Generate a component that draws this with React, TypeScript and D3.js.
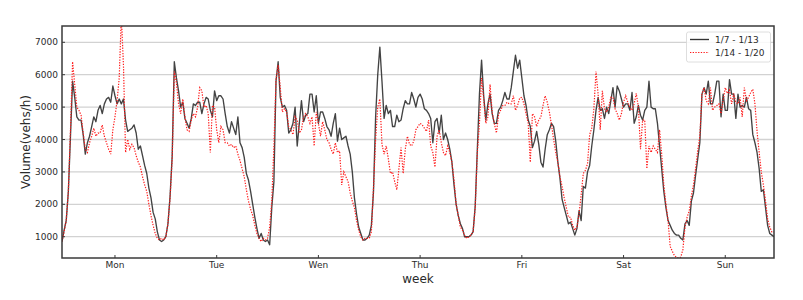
import React from 'react';
import * as d3 from 'd3';

// ---------- data ----------
const dayLabels = ['Mon', 'Tue', 'Wen', 'Thu', 'Fri', 'Sat', 'Sun'];
const yTicks = [1000, 2000, 3000, 4000, 5000, 6000, 7000];
const stepHours = 0.5; // one sample every 30 minutes
const tickHours = [12.5, 36.5, 60.5, 84.5, 108.5, 132.5, 156.5];
const seriesNames = ['1/7 - 1/13', '1/14 - 1/20'];

// week 1/7 - 1/13 (black solid)
const mon1 = [850,1200,1500,2400,4100,5800,5300,4700,4600,4600,4150,3550,3900,4100,4400,4700,4550,4900,5050,4800,5100,5250,5300,5150,5650,5350,5100,5250,5100,5250,4600,4250,4300,4350,4450,4200,3700,3800,3500,3200,2950,2500,2200,1750,1550,1150,900,850];
const tue1 = [900,1000,1400,2250,3500,6400,5900,5500,5000,5150,4650,4500,4350,4650,5100,5050,5150,5150,4800,5100,5300,5250,4900,4700,5500,5200,5350,5350,5250,4800,4400,4200,4550,4350,4150,4700,3900,3750,3450,2950,2750,2400,2000,1600,1250,950,1100,900];
const wed1 = [850,900,750,1900,2700,5800,6400,5300,5000,5050,4900,4200,4300,4500,5000,3800,4500,5200,4550,4750,4800,5400,5400,4850,5350,4500,4850,4850,4650,4400,4300,4100,4500,4800,3950,4350,4000,4050,4100,3800,3550,3000,2200,1700,1300,1100,900,900];
const thu1 = [950,1050,1350,2400,4700,6000,6850,5800,4650,5050,4800,4900,4400,4400,4750,4550,4600,4950,5200,5100,5100,5450,5250,5000,5300,5400,5250,4950,4900,4800,4650,3900,4550,4650,4200,4750,4000,4200,4000,3700,3300,2600,2000,1650,1400,1250,1000,1000];
const fri1 = [1000,1050,1150,1950,3700,5400,6450,5350,4600,5100,5400,4800,4500,4500,4900,5000,5200,5450,5250,5250,5600,6100,6600,6200,6450,5900,5350,5050,4600,4400,3750,3950,4250,3850,3300,3150,3700,4150,4300,4500,4400,3950,3300,2800,2150,1900,1650,1400];
const sat1 = [1450,1250,1050,1250,1800,1500,2550,2500,3000,3200,3800,4300,4900,5300,4900,4950,4650,5000,4800,5200,5600,5000,5650,5500,5250,5000,5100,5100,4900,5450,4500,4700,5050,4750,4600,4900,5000,5800,5000,4950,4950,4500,3800,3100,2400,1900,1500,1350];
const sun1 = [1200,1100,1050,1050,950,900,1400,1500,1350,2100,2350,2900,3400,3900,5400,5600,5400,5800,5100,5100,5400,5800,5800,4700,5400,4900,4900,5850,5400,5400,4650,5400,5000,5050,5000,5300,4950,4900,4150,3900,3600,3100,2400,2450,1900,1350,1100,1050,1000];

// week 1/14 - 1/20 (red dotted)
const mon2 = [850,1150,1500,2400,4300,6400,5700,5000,4900,4750,4200,3700,3600,3900,4100,4350,4100,4200,4200,4450,4100,3900,3700,3550,4300,4700,5200,5900,7800,6300,3600,4000,3700,3850,3750,3500,3300,3150,2850,2600,2400,2000,1650,1350,1100,950,900,950];
const tue2 = [900,1000,1400,2200,3400,6100,5750,5100,4800,5250,4700,4300,4250,4600,4800,4700,5000,5600,5500,5000,5050,4800,3600,5050,5000,4300,3900,4400,4300,3900,3900,3800,3850,3750,3800,3550,3350,3100,2850,2450,2100,1850,1650,1350,1100,950,850,950];
const wed2 = [900,950,1300,2100,3800,5850,6300,5600,4850,4950,4850,4400,4300,4150,4700,4600,4200,4300,4700,4800,4700,4500,4700,3800,4850,4500,4100,4550,4300,4000,3900,3700,3550,3900,3600,3650,2600,3000,2850,2700,2350,2100,1900,1500,1200,1000,900,950];
const thu2 = [950,950,1150,2500,4000,5000,5250,3850,3550,3800,3400,2950,3000,2700,2450,3100,3750,2950,3700,4100,3850,3800,3950,4300,4400,4500,4450,4350,4250,4600,3800,3600,3150,4100,4300,3900,3600,3500,3800,3600,3300,2750,2000,1650,1300,1200,1050,950];
const fri2 = [1000,1050,1150,1900,3600,4500,5900,5250,4500,4700,5700,4850,4500,4200,4750,4900,5050,5050,5150,5100,5100,5350,4900,5050,5280,5300,5100,4800,4500,3300,4800,4700,4400,4600,4700,5050,5350,5150,4850,4450,4000,3600,3300,2850,2550,2200,1900,1600];
const sat2 = [1600,1350,1200,1300,1700,2300,2950,3050,3250,4150,4350,4950,6100,5400,4300,5500,4950,4850,5000,5300,5300,4950,4800,4600,4800,5150,5350,5150,5000,4900,5100,5420,5000,3700,4600,4600,3100,3800,3600,3800,3700,3600,4300,3550,2600,2000,1500,700];
const sun2 = [550,420,360,340,370,600,1300,1600,1800,2250,2600,3100,3650,4100,5400,5600,5200,5100,5600,4900,5000,5050,5100,4800,5200,5600,5420,5520,5100,5420,5140,5100,5300,4700,5600,5200,5300,5450,5550,5100,4250,3600,3000,2600,2100,1550,1300,1150,1150];

const week1 = [...mon1, ...tue1, ...wed1, ...thu1, ...fri1, ...sat1, ...sun1];
const week2 = [...mon2, ...tue2, ...wed2, ...thu2, ...fri2, ...sat2, ...sun2];

export default function App() {
  const W = 803;
  const H = 300;
  const left = 62;
  const right = 774;
  const top = 26;
  const bottom = 258;

  const x = d3.scaleLinear().domain([0, 168]).range([left, right]);
  const y = d3.scaleLinear().domain([343, 7503]).range([bottom, top]);

  const line = d3
    .line<number>()
    .x((_, i) => x(i * stepHours))
    .y((d) => y(d));

  const font = 'DejaVu Sans, Verdana, sans-serif';
  const textColor = '#2b2b2b';

  return (
    <svg
      width={W}
      height={H}
      style={{ position: 'absolute', left: 0, top: 0, background: '#fff' }}
      fontFamily={font}
    >
      <defs>
        <clipPath id="plotClip">
          <rect x={left} y={top} width={right - left} height={bottom - top} />
        </clipPath>
      </defs>

      {/* grid */}
      {yTicks.map((t) => (
        <line
          key={'g' + t}
          x1={left}
          x2={right}
          y1={y(t)}
          y2={y(t)}
          stroke="#d2d2d2"
          strokeWidth={1.3}
        />
      ))}

      {/* series */}
      <g clipPath="url(#plotClip)">
        <path d={line(week1) || ''} fill="none" stroke="#333" strokeOpacity={0.92} strokeWidth={1.35} strokeLinejoin="round" />
        <path d={line(week2) || ''} fill="none" stroke="#ff1a1a" strokeWidth={1.2} strokeDasharray="1.3 1.4" />
      </g>

      {/* frame */}
      <rect x={left} y={top} width={right - left} height={bottom - top} fill="none" stroke="#3a3a3a" strokeWidth={1.5} />

      {/* y ticks */}
      {yTicks.map((t) => (
        <g key={'y' + t}>
          <line x1={left} x2={left + 3} y1={y(t)} y2={y(t)} stroke="#3a3a3a" strokeWidth={1} />
          <text x={left - 4} y={y(t)} dy="0.35em" textAnchor="end" fontSize={9} fill={textColor}>
            {t}
          </text>
        </g>
      ))}

      {/* x ticks */}
      {tickHours.map((h, i) => (
        <g key={'x' + h}>
          <line x1={x(h)} x2={x(h)} y1={bottom} y2={bottom - 3} stroke="#3a3a3a" strokeWidth={1} />
          <text x={x(h)} y={bottom + 10} textAnchor="middle" fontSize={9} fill={textColor}>
            {dayLabels[i]}
          </text>
        </g>
      ))}

      {/* axis titles */}
      <text x={(left + right) / 2} y={282.5} textAnchor="middle" fontSize={12} fill={textColor}>
        week
      </text>
      <text
        transform={`translate(30, ${(top + bottom) / 2}) rotate(-90)`}
        textAnchor="middle"
        fontSize={12}
        fill={textColor}
      >
        Volume(vehs/h)
      </text>

      {/* legend */}
      <g>
        <rect x={686.5} y={32} width={84} height={30} rx={2} fill="#fff" fillOpacity={0.85} stroke="#d6d6d6" strokeWidth={0.8} />
        <line x1={690} x2={709} y1={39.5} y2={39.5} stroke="#333" strokeWidth={1.35} />
        <text x={715} y={42.5} fontSize={9} fill={textColor}>{seriesNames[0]}</text>
        <line x1={690} x2={709} y1={52.5} y2={52.5} stroke="#ff1a1a" strokeWidth={1.2} strokeDasharray="1.3 1.4" />
        <text x={715} y={55.8} fontSize={9} fill={textColor}>{seriesNames[1]}</text>
      </g>
    </svg>
  );
}
